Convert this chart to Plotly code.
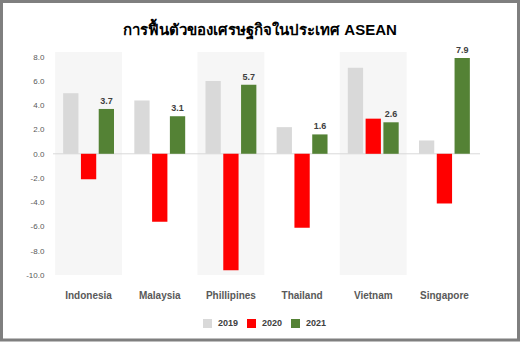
import plotly.graph_objects as go

countries = ["Indonesia", "Malaysia", "Phillipines", "Thailand", "Vietnam", "Singapore"]
years = ["2019", "2020", "2021"]
v2019 = [5.0, 4.4, 6.0, 2.2, 7.1, 1.1]
v2020 = [-2.1, -5.6, -9.6, -6.1, 2.9, -4.1]
v2021 = [3.7, 3.1, 5.7, 1.6, 2.6, 7.9]
colors = ["#d9d9d9", "#ff0000", "#548235"]
shaded = ["Indonesia", "Phillipines", "Vietnam"]
yticks = [8, 6, 4, 2, 0, -2, -4, -6, -8, -10]

FONT = "Liberation Sans, Arial, Noto Sans, sans-serif"
W, H = 520, 342
ML, MR, MT, MB = 53, 40, 52, 67
pw, ph = W - ML - MR, H - MT - MB


def px(x):
    return (x - ML) / pw


def py(y):
    return (MT + ph - y) / ph


fig = go.Figure()
for name, vals, col in zip(years, [v2019, v2020, v2021], colors):
    fig.add_trace(go.Bar(
        name=name, x=countries, y=vals, marker=dict(color=col, line=dict(width=0)),
        text=[f"{v:.1f}" for v in vals] if name == "2021" else None,
        textposition="outside" if name == "2021" else "none",
        textfont=dict(family=FONT, size=9, color="#404040", weight="bold"),
        cliponaxis=False, showlegend=False,
    ))

shapes = []
annotations = []
for c in shaded:
    i = countries.index(c)
    shapes.append(dict(type="rect", xref="x", yref="paper", x0=i - 0.47, x1=i + 0.47,
                       y0=0, y1=1, fillcolor="#f6f6f6", line=dict(width=0), layer="below"))
# zero line
shapes.append(dict(type="line", xref="paper", yref="y", x0=0, x1=1, y0=0, y1=0,
                   line=dict(color="#d9d9d9", width=1), layer="below"))
# outer frame
shapes.append(dict(type="rect", xref="paper", yref="paper",
                   x0=px(1.5), x1=px(W - 1.5), y0=py(H - 2), y1=py(1.5),
                   line=dict(color="#7f7f7f", width=3), fillcolor="rgba(0,0,0,0)"))

# legend (square + label per series)
leg_x0 = 203
for k, (name, col) in enumerate(zip(years, colors)):
    x = leg_x0 + 44 * k
    shapes.append(dict(type="rect", xref="paper", yref="paper",
                       x0=px(x), x1=px(x + 9), y0=py(328), y1=py(319),
                       fillcolor=col, line=dict(width=0)))
    annotations.append(dict(text=name, xref="paper", yref="paper", x=px(x + 13), y=py(323),
                            xanchor="left", yanchor="middle", showarrow=False,
                            font=dict(family=FONT, size=9, color="#404040", weight="bold")))

fig.update_layout(
    width=W, height=H,
    margin=dict(l=ML, r=MR, t=MT, b=MB, pad=0, autoexpand=False),
    paper_bgcolor="white", plot_bgcolor="white",
    barmode="group", bargap=0.25, bargroupgap=0.14,
    title=dict(text="การฟื้นตัวของเศรษฐกิจในประเทศ ASEAN", x=0.5, xref="container",
               xanchor="center", y=1 - 30 / H, yanchor="middle",
               font=dict(family=FONT, size=15, color="#000000", weight="bold")),
    showlegend=False,
    shapes=shapes,
    annotations=annotations,
    xaxis=dict(showgrid=False, zeroline=False, showline=False, automargin=False,
               ticks="outside", ticklen=11, tickcolor="rgba(0,0,0,0)",
               tickfont=dict(family=FONT, size=10, color="#595959", weight="bold")),
    yaxis=dict(range=[-10, 8.4], tickvals=yticks, ticktext=[f"{t:.1f}" for t in yticks],
               showgrid=False, zeroline=False, showline=False, automargin=False,
               ticks="outside", ticklen=6, tickcolor="rgba(0,0,0,0)",
               tickfont=dict(family=FONT, size=8, color="#595959")),
)

fig.write_html("out.html")
